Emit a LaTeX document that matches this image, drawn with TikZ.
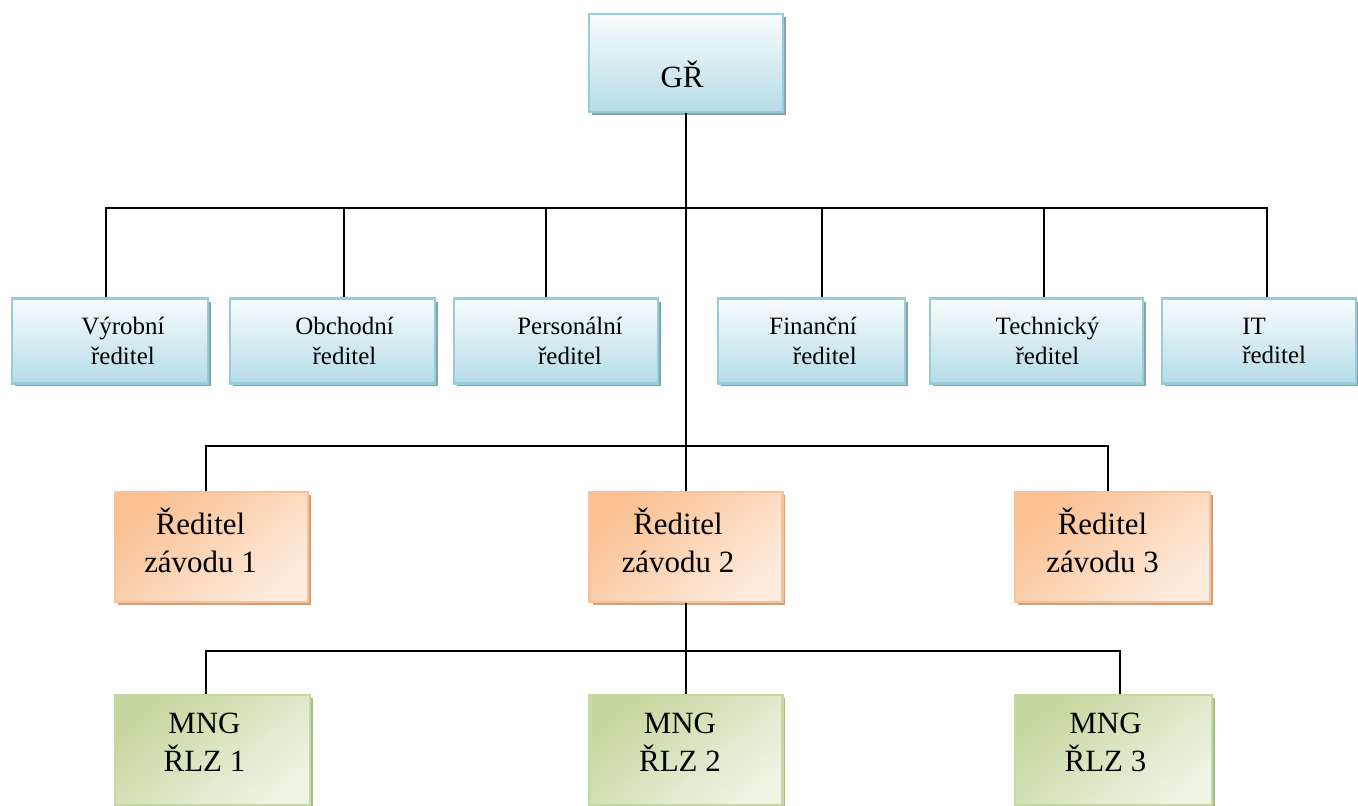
\documentclass[tikz,border=0pt]{standalone}
\usepackage{fontspec}
\setmainfont{Liberation Serif}
\usetikzlibrary{shadows}

\definecolor{bluL}{HTML}{F8FCFD}
\definecolor{bluD}{HTML}{B5DCE7}
\definecolor{bluB}{HTML}{94CEDD}
\definecolor{bluS}{HTML}{86A3AB}
\definecolor{oraL}{HTML}{FDEBDD}
\definecolor{oraD}{HTML}{FAC092}
\definecolor{oraB}{HTML}{F9C195}
\definecolor{oraS}{HTML}{C9A283}
\definecolor{grnL}{HTML}{EEF3E3}
\definecolor{grnD}{HTML}{C4D79E}
\definecolor{grnB}{HTML}{C6D9A2}
\definecolor{grnS}{HTML}{A9B98E}

\tikzset{
  box/.style={rectangle, line width=1.2pt, inner sep=0pt},
  blubox/.style={box, draw=bluB, top color=bluL, bottom color=bluD,
    drop shadow={shadow xshift=0.06cm, shadow yshift=-0.06cm, fill=bluS, opacity=1}},
  orabox/.style={box, draw=oraB, top color=oraD, bottom color=oraL, shading angle=40,
    minimum height=2.2cm,
    drop shadow={shadow xshift=0.06cm, shadow yshift=-0.06cm, fill=oraS, opacity=1}},
  grnbox/.style={box, draw=grnB, top color=grnD, bottom color=grnL, shading angle=40,
    minimum height=2.2cm,
    drop shadow={shadow xshift=0.06cm, shadow yshift=-0.06cm, fill=grnS, opacity=1}},
  smalltxt/.style={inner sep=0pt, align=center, font=\fontsize{14.2}{17}\selectfont},
  bigtxt/.style={inner sep=0pt, align=center, font=\fontsize{17.6}{21.6}\selectfont},
  conn/.style={line width=1.1pt, line join=miter}
}

\begin{document}
\begin{tikzpicture}[x=0.02cm, y=-0.02cm]
\useasboundingbox (0,0) rectangle (1358,805);

% top
\node[blubox, minimum width=3.88cm, minimum height=1.96cm] (gr) at (686,63) {};
\node[bigtxt] (grt) at ([shift={(-4,11)}]gr.center) {GŘ};

% directors
\node[blubox, minimum width=3.92cm, minimum height=1.7cm] (vyr) at (110,341) {};
\node[blubox, minimum width=4.10cm, minimum height=1.7cm] (obch) at (332.5,341) {};
\node[blubox, minimum width=4.08cm, minimum height=1.7cm] (pers) at (556,341) {};
\node[blubox, minimum width=3.74cm, minimum height=1.7cm] (fin) at (811.5,341) {};
\node[blubox, minimum width=4.26cm, minimum height=1.7cm] (tech) at (1036.5,341) {};
\node[blubox, minimum width=3.88cm, minimum height=1.7cm] (it) at (1259,341) {};

\node[smalltxt] (vyrt) at ([shift={(13,0)}]vyr.center) {Výrobní\\ředitel};
\node[smalltxt] (obcht) at ([shift={(12,0)}]obch.center) {Obchodní\\ředitel};
\node[smalltxt] (perst) at ([shift={(14,0)}]pers.center) {Personální\\ředitel};
\node[smalltxt, align=right, anchor=east] (fint) at ([shift={(-49,0)}]fin.east) {Finanční\\ředitel};
\node[smalltxt] (techt) at ([shift={(11,0)}]tech.center) {Technický\\ředitel};
\node[smalltxt, align=left, anchor=west] (itt) at ([shift={(81,0)}]it.west) {IT\\ředitel};

% plants
\node[orabox, minimum width=3.86cm] (z1) at (211.5,547) {};
\node[orabox, minimum width=3.86cm] (z2) at (686,547) {};
\node[orabox, minimum width=3.90cm] (z3) at (1112.5,547) {};

\node[bigtxt] (z1t) at ([shift={(-11,-7)}]z1.center) {Ředitel\\závodu 1};
\node[bigtxt] (z2t) at ([shift={(-8,-7)}]z2.center) {Ředitel\\závodu 2};
\node[bigtxt] (z3t) at ([shift={(-10,-7)}]z3.center) {Ředitel\\závodu 3};

% managers
\node[grnbox, minimum width=3.90cm] (m1) at (212.5,750) {};
\node[grnbox, minimum width=3.86cm] (m2) at (686,750) {};
\node[grnbox, minimum width=3.94cm] (m3) at (1113.5,750) {};

\node[bigtxt] (m1t) at ([shift={(-8,-8)}]m1.center) {MNG\\ŘLZ 1};
\node[bigtxt] (m2t) at ([shift={(-6,-8)}]m2.center) {MNG\\ŘLZ 2};
\node[bigtxt] (m3t) at ([shift={(-8,-8)}]m3.center) {MNG\\ŘLZ 3};

% lines
\coordinate (d1) at (106,208);
\coordinate (d2) at (344,208);
\coordinate (d3) at (546,208);
\coordinate (d4) at (822,208);
\coordinate (d5) at (1044,208);
\coordinate (d6) at (1267,208);
\coordinate (e1) at (206,446);
\coordinate (e3) at (1108,446);
\coordinate (f1) at (206,651);
\coordinate (f3) at (1120,651);

\draw[conn] (gr.south) -- (z2.north);
\draw[conn] (d1 |- vyr.north) -- (d1) -- (d6) -- (d6 |- it.north);
\foreach \d/\n in {d2/obch, d3/pers, d4/fin, d5/tech}
  \draw[conn] (\d) -- (\d |- \n.north);
\draw[conn] (e1 |- z1.north) -- (e1) -- (e3) -- (e3 |- z3.north);
\draw[conn] (z2.south) -- (m2.north);
\draw[conn] (f1 |- m1.north) -- (f1) -- (f3) -- (f3 |- m3.north);
\end{tikzpicture}
\end{document}
